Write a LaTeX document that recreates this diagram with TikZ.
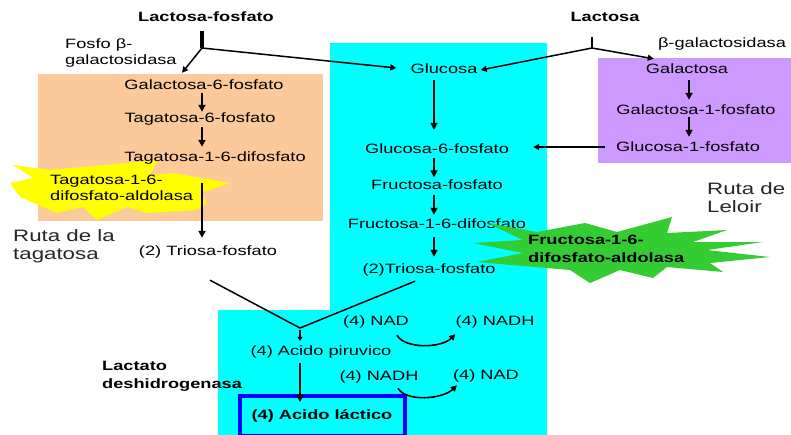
\documentclass[tikz,border=0pt]{standalone}
\usepackage{fontspec}
\setmainfont{Liberation Sans}[FakeStretch=1.35]
\usetikzlibrary{arrows.meta,calc}
\definecolor{peach}{HTML}{FBC99A}
\definecolor{lilac}{HTML}{CC99FF}
\definecolor{cyanb}{HTML}{00FFFF}
\definecolor{greenb}{HTML}{33CC33}
\definecolor{yellowb}{HTML}{FFFF00}
\definecolor{bluebox}{HTML}{0000FF}
\begin{document}
\begin{tikzpicture}[x=1pt,y=-1pt,
  lbl/.style={inner sep=2pt, font=\fontsize{13.5}{17}\selectfont, text height=9.5pt, text depth=2.5pt},
  blbl/.style={lbl, font=\fontsize{13.5}{17}\selectfont\bfseries},
  mtxt/.style={inner sep=0pt, anchor=north west, align=left, font=\fontsize{13.5}{16}\selectfont},
  bmtxt/.style={mtxt, font=\fontsize{13.5}{18}\selectfont\bfseries},
  rtxt/.style={inner sep=0pt, anchor=north west, align=left, font=\fontsize{16.5}{18}\selectfont, text=black!85},
  arr/.style={line width=2pt, -{Triangle[length=7pt,width=7pt]}},
  tarr/.style={line width=1.5pt, -{Triangle[length=6pt,width=6pt]}},
  sarr/.style={line width=1.3pt, -{Triangle[length=4pt,width=5pt]}},
  tline/.style={line width=1.5pt},
  stem/.style={line width=3.5pt},
  carr/.style={line width=1.6pt, -{Triangle[length=6pt,width=6pt]}}
]
\clip (0,0) rectangle (791,434);
\fill[white] (0,0) rectangle (791,434);
% background boxes
\fill[peach] (38,74) rectangle (323,221);
\fill[cyanb] (330,43) -- (547,43) -- (547,440) -- (218,440) -- (218,310) -- (330,310) -- cycle;
\fill[lilac] (598,58) rectangle (795,163);
% yellow starburst
\fill[yellowb] (13,165) -- (50,170) -- (158,160) -- (150,175) -- (173,173) -- (230,183) -- (200,193) -- (207,203) -- (197,210) -- (147,213) -- (127,207) -- (97,220) -- (83,207) -- (57,213) -- (20,197) -- (10,183) -- (33,178) -- cycle;

% reference x positions
\coordinate (xL) at (202,0);
\coordinate (xC) at (434,0);
\coordinate (xR) at (689,0);

% top
\node[blbl] (lacf) at (206,18) {Lactosa-fosfato};
\node[blbl] (lac) at (605,18) {Lactosa};
\node[mtxt] (fosfo) at (65,39) {Fosfo β-\\galactosidasa};
\node[lbl] (bgal) at (722,44) {β-galactosidasa};

% tagatose path
\node[lbl] (gal6) at (204,86) {Galactosa-6-fosfato};
\node[lbl] (tag6) at (200,119) {Tagatosa-6-fosfato};
\node[lbl] (tag16) at (215,158) {Tagatosa-1-6-difosfato};
\node[mtxt] (tald) at (50,175) {Tagatosa-1-6-\\difosfato-aldolasa};
\node[lbl] (tri1) at (208,252) {(2) Triosa-fosfato};
\node[rtxt] (rtag) at (13,229) {Ruta de la\\tagatosa};

% glycolysis
\node[lbl] (gluc) at (444,70) {Glucosa};
\node[lbl] (g6f) at (437,150) {Glucosa-6-fosfato};
\node[lbl] (ff) at (437,185.5) {Fructosa-fosfato};
\node[lbl] (f16) at (437,225) {Fructosa-1-6-difosfato};
\node[lbl] (tri2) at (429,270) {(2)Triosa-fosfato};

% green starburst
\fill[greenb] (487,223) -- (537,232) -- (585,223) -- (617,232) -- (672,217) -- (667,233) -- (727,230) -- (693,242) -- (763,242) -- (707,250) -- (770,257) -- (710,263) -- (723,272) -- (667,267) -- (653,278) -- (620,270) -- (590,283) -- (570,270) -- (477,262) -- (523,253) -- (473,243) -- (523,240) -- cycle;
\node[bmtxt] (fald) at (528,235) {Fructosa-1-6-\\difosfato-aldolasa};

% Leloir
\node[lbl] (gala) at (687,70) {Galactosa};
\node[lbl] (g1p) at (696,111) {Galactosa-1-fosfato};
\node[lbl] (glc1p) at (688,148) {Glucosa-1-fosfato};
\node[rtxt] (rlel) at (707,182) {Ruta de\\Leloir};

% bottom
\coordinate (vj) at (300,328);
\node[lbl] (pir) at (321,352) {(4) Acido piruvico};
\node[blbl, draw=bluebox, line width=4pt, minimum width=165pt, minimum height=40pt, text height=9.5pt] (lact) at (322,416) {(4) Acido láctico};
\node[bmtxt] (ldh) at (102,361) {Lactato\\deshidrogenasa};
\node[lbl] (nad1) at (376,322) {(4) NAD};
\node[lbl] (nadh1) at (495,322) {(4) NADH};
\node[lbl] (nadh2) at (379,377) {(4) NADH};
\node[lbl] (nad2) at (486,376) {(4) NAD};

% connectors: top
\coordinate (lfj) at (202,48);
\draw[stem] ($(lacf.south -| lfj)+(0,5)$) -- (lfj);
\draw[tarr] (lfj) -- ($(gal6.north)+(-22,-5)$);
\draw[tarr] (lfj) -- ($(gluc.west)+(-12,-2)$);
\coordinate (lj) at (592,48);
\draw[line width=2.5pt] ($(lac.south -| lj)+(0,11)$) -- (lj);
\draw[tarr] (lj) -- ($(gluc.east)+(1,0)$);
\draw[tarr] (lj) -- ($(gala.north west)+(10,-3)$);

% tagatose arrows
\draw[arr] ($(gal6.south -| xL)+(0,-1)$) -- ($(tag6.north -| xL)+(0,1)$);
\draw[arr] ($(tag6.south -| xL)+(0,0)$) -- ($(tag16.north -| xL)+(0,-3)$);
\draw[arr] ($(tag16.south -| xL)+(0,17)$) -- ($(tri1.north -| xL)+(0,-6)$);

% glycolysis arrows
\draw[arr] ($(gluc.south -| xC)+(0,2)$) -- ($(g6f.north -| xC)+(0,-12)$);
\draw[arr] (g6f.south -| xC) -- (ff.north -| xC);
\draw[arr] ($(ff.south -| xC)+(0,1)$) -- ($(f16.north -| xC)+(0,-2)$);
\draw[arr] ($(f16.south -| xC)+(0,4)$) -- ($(tri2.north -| xC)+(0,-5)$);

% Leloir arrows
\draw[arr] ($(gala.south -| xR)+(0,2)$) -- ($(g1p.north -| xR)+(0,-3)$);
\draw[arr] ($(g1p.south -| xR)+(0,-2)$) -- ($(glc1p.north -| xR)+(0,-3)$);
\draw[tarr] ($(glc1p.west)+(-9,-1)$) -- ($(g6f.east)+(22,-3)$);

% convergence to pyruvate
\draw[tline] ($(tri1.south)+(2,20)$) -- (vj) -- ($(tri2.south)+(-14,3)$);
\draw[sarr] ($(vj)+(0,2)$) -- ($(pir.north -| vj)+(0,-3)$);
\draw[arr] ($(pir.south -| vj)+(0,3)$) -- ($(lact.north -| vj)+(0,8)$);

% NAD cycles
\draw[carr] ($(nad1.south)+(21,5)$) .. controls +(8,14) and +(-14,14) .. ($(nadh1.south west)+(2,4)$);
\draw[carr] ($(nadh2.south)+(19,3)$) .. controls +(8,14) and +(-14,14) .. ($(nad2.south west)+(6,1)$);
\end{tikzpicture}
\end{document}
